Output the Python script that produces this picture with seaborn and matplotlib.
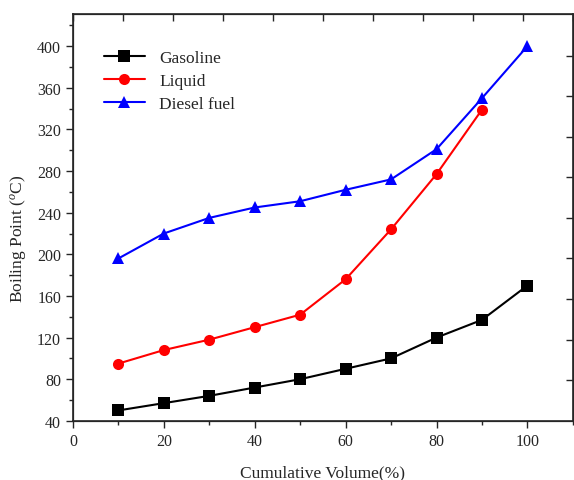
import pandas as pd
import matplotlib
matplotlib.use('Agg')
import matplotlib.pyplot as plt
import seaborn as sns

# data
volume = [10, 20, 30, 40, 50, 60, 70, 80, 90, 100]
gasoline = [50, 57, 64, 72, 80, 90, 100, 120, 137, 170]
liquid = [95, 108, 118, 130, 142, 176, 224, 277, 339]
diesel = [196, 220, 235, 245, 251, 262, 272, 301, 350, 400]
series_names = ['Gasoline', 'Liquid', 'Diesel fuel']

df = pd.concat([
    pd.DataFrame({'x': volume, 'y': gasoline, 'fuel': 'Gasoline'}),
    pd.DataFrame({'x': volume[:len(liquid)], 'y': liquid, 'fuel': 'Liquid'}),
    pd.DataFrame({'x': volume, 'y': diesel, 'fuel': 'Diesel fuel'}),
])

sns.set_style('ticks')
plt.rcParams['font.family'] = ['Liberation Serif', 'DejaVu Serif']
plt.rcParams['mathtext.fontset'] = 'custom'
plt.rcParams['mathtext.rm'] = 'Liberation Serif'
plt.rcParams['mathtext.it'] = 'Liberation Serif:italic'

fig = plt.figure(figsize=(5.74, 4.81), dpi=100)
ax = fig.add_axes([0.127, 0.123, 0.871, 0.846])

sns.lineplot(data=df, x='x', y='y', hue='fuel', style='fuel',
             hue_order=series_names, style_order=series_names,
             palette=['black', 'red', 'blue'],
             markers=['s', 'o', '^'], dashes=False,
             markersize=8, markeredgewidth=0, linewidth=1.5, ax=ax)

ax.set_xlim(0, 110)
ax.set_ylim(40, 431)
ax.set_xticks(range(0, 101, 20))
ax.set_xticks(range(10, 111, 20), minor=True)
ax.set_yticks(range(40, 401, 40))
ax.set_yticks(range(60, 421, 40), minor=True)
ax.tick_params(which='both', direction='out', labelsize=11.5, width=1)
ax.tick_params(which='major', length=5)
ax.tick_params(which='minor', length=3)
for s in ax.spines.values():
    s.set_linewidth(1.2)
ax.set_xlabel('Cumulative Volume(%)', fontsize=12.5, labelpad=11)
ax.set_ylabel('Boiling Point ($^{o}$C)', fontsize=12.5)
ax.yaxis.set_label_coords(-0.09, 0.45)

# Origin-style inward ticks on top and right frame
top = ax.twiny()
top.set_xlim(0, 110)
top.set_xticks(range(0, 111, 11))
top.set_xticklabels([])
top.tick_params(direction='in', length=5, width=1)
right = ax.twinx()
right.set_ylim(40, 431)
right.set_yticks([79, 118, 157, 196, 235, 274, 313, 352, 391])
right.set_yticklabels([])
right.tick_params(direction='in', length=5, width=1)

leg = ax.legend(loc='upper left', bbox_to_anchor=(0.03, 0.95), frameon=False,
                fontsize=12.5, handlelength=2.4, labelspacing=0.4)

fig.savefig('out.png', dpi=100)
